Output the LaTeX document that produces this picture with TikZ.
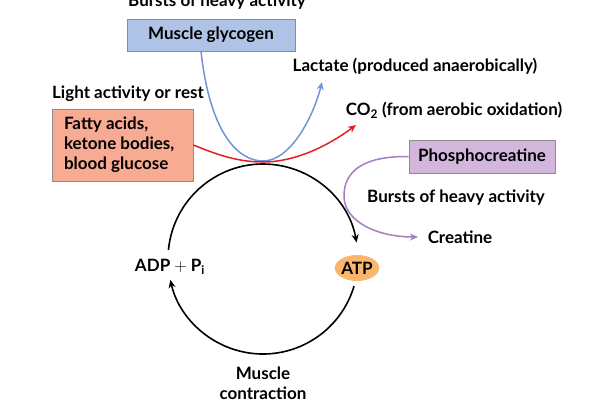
\documentclass[tikz,border=0pt]{standalone}
\usepackage{fontspec}
\setmainfont{Lato}
\usetikzlibrary{arrows.meta,shapes.geometric,calc}
\definecolor{glyc}{HTML}{AFC3E6}
\definecolor{fatty}{HTML}{F7AB93}
\definecolor{pcr}{HTML}{D3B6DC}
\definecolor{atpc}{HTML}{FBB66E}
\definecolor{bline}{HTML}{6F96D2}
\definecolor{rline}{HTML}{E41E26}
\definecolor{pline}{HTML}{A57DC0}
\definecolor{boxdraw}{HTML}{8C8C8C}
\newcommand{\fnt}{\fontsize{17}{18}\selectfont\bfseries}
\tikzset{
  lbl/.style={font=\fnt, inner sep=0pt},
  box/.style={draw=boxdraw, line width=0.8pt, inner sep=0pt, font=\fnt},
  tip/.style={-{Stealth[length=8pt,width=7pt]}},
  curve/.style={line width=1.5pt, tip},
}
\begin{document}
\begin{tikzpicture}[x=1pt,y=1pt]
\useasboundingbox (0,0) rectangle (591,408);
% nodes
\node[lbl, anchor=base] (burst1) at (217,401) {Bursts of heavy activity};
\node[box, fill=glyc, minimum width=168pt, minimum height=32pt] (glyc) at (211,373) {Muscle glycogen};
\node[lbl] (lact) at (415,342) {Lactate (produced anaerobically)};
\node[lbl] (light) at (128,314) {Light activity or rest};
\node[box, fill=fatty, minimum width=141pt, minimum height=72pt, align=left, font=\fontsize{17}{20}\selectfont\bfseries] (fatty) at (122.5,263) {\makebox[117pt][l]{Fatty acids,}\\ketone bodies,\\blood glucose};
\node[lbl] (co2) at (454,298) {CO\textsubscript{2} (from aerobic oxidation)};
\node[box, fill=pcr, minimum width=146pt, minimum height=33pt] (pcr) at (482,251.5) {Phosphocreatine};
\node[lbl] (burst2) at (456,210) {Bursts of heavy activity};
\node[lbl] (creat) at (460,171) {Creatine};
\node[ellipse, fill=atpc, minimum width=40pt, minimum height=26pt, inner sep=0pt, font=\fnt] (atp) at (357,140) {ATP};
\node[lbl] (adp) at (170,141) {ADP $+$ P\textsubscript{i}};
\node[lbl, align=center, font=\fontsize{17}{20}\selectfont\bfseries] (musc) at (263,25) {Muscle\\contraction};
% cycle
\coordinate (c) at (263,149);
\coordinate (a1) at ($(c)+(174.5:95pt)$);
\coordinate (a2) at ($(c)+(-16.6:95pt)$);
\draw[line width=1.6pt, tip] (a1) arc[start angle=174.5, end angle=10, radius=95pt];
\draw[line width=1.6pt, tip] (a2) arc[start angle=-16.6, end angle=-167.3, radius=95pt];
% curves
\coordinate (btip) at (322,326);
\coordinate (rtip) at (356,283);
\coordinate (ptip) at (418,171);
\draw[curve, bline] (glyc.south -| 201,0) .. controls (210,275) and (238,247) .. (263,247) .. controls (290,247) and (313,290) .. (btip);
\draw[curve, rline] (fatty.east) .. controls (220,252) and (240,246) .. (263,246) .. controls (295,246) and (328,262) .. (rtip);
\draw[curve, pline] (pcr.west) .. controls (362,252) and (344,236) .. (344,212) .. controls (344,186) and (378,171) .. (ptip);
\end{tikzpicture}
\end{document}
